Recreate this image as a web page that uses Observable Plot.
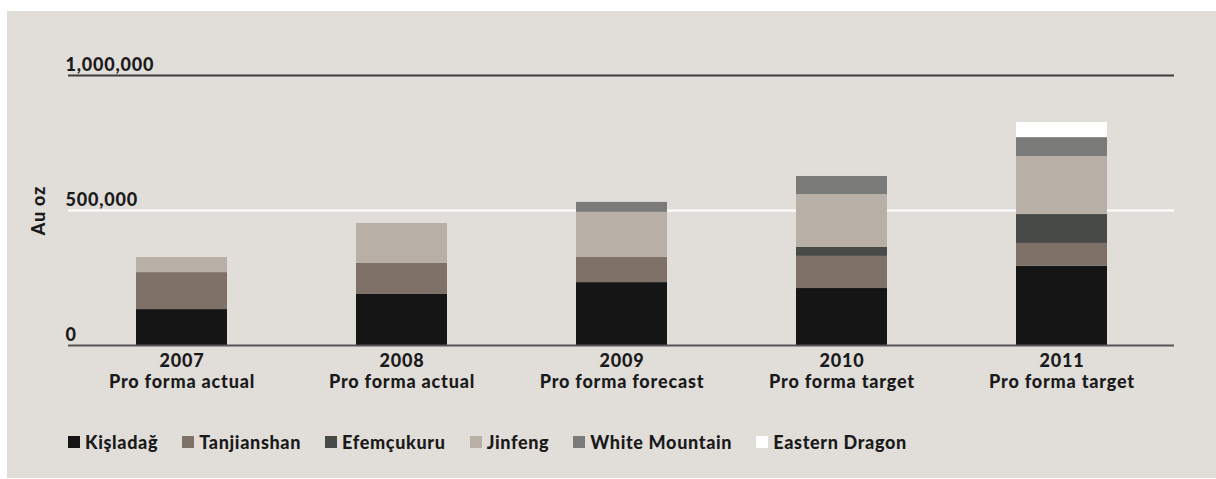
<!DOCTYPE html>
<html>
<head>
<meta charset="utf-8">
<script src="https://cdn.jsdelivr.net/npm/d3@7"></script>
<script src="https://cdn.jsdelivr.net/npm/@observablehq/plot@0.6"></script>
<style>
  html, body { margin: 0; padding: 0; background: #ffffff; }
  #panel {
    position: absolute; left: 7px; top: 11px; width: 1209px; height: 467px;
    background: #e1deda; font-family: "Lato", sans-serif; font-weight: 900; color: #1a1a1a;
  }
  #chart svg { display: block; letter-spacing: 0.8px; }
  #legend {
    position: absolute; left: 61px; top: 420px; display: flex; align-items: center;
    font-size: 18px; letter-spacing: 0.65px;
  }
  #legend .item { display: flex; align-items: center; margin-right: 24px; }
  #legend .swatch { width: 12px; height: 12px; margin-right: 5px; }
</style>
</head>
<body>
<div id="panel">
  <div id="chart"></div>
  <div id="legend"></div>
</div>
<script>
// Annual gold production by mine, ounces
const years = ["2007", "2008", "2009", "2010", "2011"];
const basis = ["Pro forma actual", "Pro forma actual", "Pro forma forecast", "Pro forma target", "Pro forma target"];
const mines = ["Kişladağ", "Tanjianshan", "Efemçukuru", "Jinfeng", "White Mountain", "Eastern Dragon"];
const mineColors = ["#151515", "#7d7168", "#484a48", "#b8b0a7", "#7a7b79", "#ffffff"];

const kisladag      = [133000, 189000, 233000, 211000, 293000];
const tanjianshan   = [137000, 115000,  93000, 119000,  85000];
const efemcukuru    = [     0,      0,      0,  33000, 107000];
const jinfeng       = [ 56000, 148000, 167000, 196000, 215000];
const whiteMountain = [     0,      0,  37000,  67000,  70000];
const easternDragon = [     0,      0,      0,      0,  56000];

const yTicks = [0, 500000, 1000000];
const yLabel = "Au oz";

const series = [kisladag, tanjianshan, efemcukuru, jinfeng, whiteMountain, easternDragon];
const rows = [];
years.forEach((year, i) => {
  mines.forEach((mine, j) => {
    rows.push({year, mine, value: series[j][i]});
  });
});
const categories = years.map((year, i) => ({year, label: year + "\n" + basis[i]}));
const fmt = d3.format(",");

const chart = Plot.plot({
  width: 1209,
  height: 400,
  marginTop: 64,
  marginBottom: 66,
  marginLeft: 63,
  marginRight: 44,
  style: {background: "transparent", fontFamily: "Lato, sans-serif", fontSize: "18px", fontWeight: 900, color: "#1a1a1a"},
  x: {domain: years, paddingInner: 0.587, paddingOuter: 0.295, axis: null},
  y: {domain: [0, 1000000], axis: null},
  color: {domain: mines, range: mineColors},
  marks: [
    Plot.ruleY([500000], {stroke: "#ffffff", strokeWidth: 2, insetLeft: -2, insetRight: -2}),
    Plot.barY(rows, {x: "year", y: "value", fill: "mine", order: mines}),
    Plot.ruleY([1000000], {stroke: "#3d3d3d", strokeWidth: 2, insetLeft: -2, insetRight: -2}),
    Plot.ruleY([0], {stroke: "#555555", strokeWidth: 2, insetLeft: -2, insetRight: -2}),
    Plot.text(yTicks, {y: d => d, text: d => fmt(d), frameAnchor: "left", textAnchor: "start", lineAnchor: "bottom", dx: -5, dy: -5}),
    Plot.text(categories, {x: "year", y: () => 0, text: "label", lineAnchor: "top", lineHeight: 1.15, dy: 7}),
    Plot.text([yLabel], {text: d => d, frameAnchor: "left", rotate: -90, textAnchor: "middle", lineAnchor: "middle", dx: -31})
  ]
});
document.getElementById("chart").appendChild(chart);

const legend = document.getElementById("legend");
mines.forEach((mine, j) => {
  const item = document.createElement("div");
  item.className = "item";
  const sw = document.createElement("span");
  sw.className = "swatch";
  sw.style.background = mineColors[j];
  const label = document.createElement("span");
  label.textContent = mine;
  item.appendChild(sw);
  item.appendChild(label);
  legend.appendChild(item);
});
</script>
</body>
</html>
